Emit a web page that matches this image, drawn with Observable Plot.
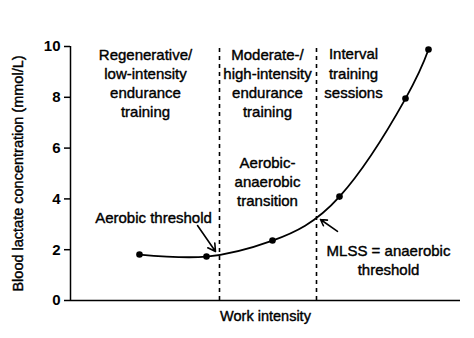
<!DOCTYPE html>
<html>
<head>
<meta charset="utf-8">
<script src="https://cdn.jsdelivr.net/npm/d3@7"></script>
<script src="https://cdn.jsdelivr.net/npm/@observablehq/plot@0.6"></script>
<style>
  body { margin: 0; background: #fff; }
  #chart svg { font-family: "Liberation Sans", Arial, sans-serif; }
</style>
</head>
<body>
<div id="chart"></div>
<script>
// Work intensity (arbitrary units) and blood lactate (mmol/L)
const intensity = [6.9, 13.6, 20.2, 26.9, 33.5, 35.8];
const lactate = [1.81, 1.73, 2.36, 4.09, 7.95, 9.88];
const yTicks = [0, 2, 4, 6, 8, 10];
const thresholds = [14.9, 24.6];

const zoneLabels = [
  "Regenerative/\nlow-intensity\nendurance\ntraining",
  "Moderate-/\nhigh-intensity\nendurance\ntraining",
  "Interval\ntraining\nsessions",
  "Aerobic-\nanaerobic\ntransition",
  "Aerobic threshold",
  "MLSS = anaerobic\nthreshold"
];
const labelX = [7.5, 19.7, 28.3, 19.7, 8.3, 31.8];
const labelY = [8.6, 8.6, 8.98, 4.72, 3.31, 1.63];

const arrowX1 = [12.7, 26.7];
const arrowY1 = [2.95, 2.72];
const arrowX2 = [14.5, 25.0];
const arrowY2 = [1.93, 3.19];

const yLabel = "Blood lactate concentration (mmol/L)";
const xLabel = "Work intensity";

const points = intensity.map((x, i) => ({x, y: lactate[i]}));
const labels = zoneLabels.map((t, i) => ({t, x: labelX[i], y: labelY[i]}));
const arrows = arrowX1.map((x1, i) => ({x1, y1: arrowY1[i], x2: arrowX2[i], y2: arrowY2[i]}));

const chart = Plot.plot({
  width: 474,
  height: 338,
  marginLeft: 70,
  marginRight: 14,
  marginTop: 46,
  marginBottom: 38,
  style: {fontFamily: "Liberation Sans, Arial, sans-serif", color: "#000", background: "#fff"},
  x: {domain: [0, 39], axis: null},
  y: {domain: [0, 10]},
  marks: [
    Plot.axisY({ticks: yTicks, tickSize: 6, tickPadding: 4, fontSize: 15, fontWeight: "bold", label: null, strokeWidth: 1.5}),
    Plot.text([yLabel], {frameAnchor: "left", textAnchor: "middle", dx: -52, rotate: -90, fontSize: 14.5, fill: "#000", stroke: "#000", strokeWidth: 0.4}),
    Plot.ruleX([0], {y1: 0, y2: 10, stroke: "#000", strokeWidth: 1.5}),
    Plot.ruleY([0], {x1: 0, x2: 39, stroke: "#000", strokeWidth: 1.5}),
    Plot.ruleX(thresholds, {y1: 0, y2: 10, stroke: "#000", strokeWidth: 1.6, strokeDasharray: "4,4"}),
    Plot.line(points, {x: "x", y: "y", curve: "natural", stroke: "#000", strokeWidth: 1.8}),
    Plot.dot(points, {x: "x", y: "y", r: 3.3, fill: "#000"}),
    Plot.text(labels, {x: "x", y: "y", text: "t", fontSize: 15, lineHeight: 1.27, fill: "#000", stroke: "#000", strokeWidth: 0.4, textAnchor: "middle"}),
    Plot.arrow(arrows, {x1: "x1", y1: "y1", x2: "x2", y2: "y2", stroke: "#000", strokeWidth: 1.6, headLength: 8}),
    Plot.text([xLabel], {frameAnchor: "bottom", dy: 20, fontSize: 14.5, fill: "#000", stroke: "#000", strokeWidth: 0.4})
  ]
});
document.getElementById("chart").appendChild(chart);
</script>
</body>
</html>
